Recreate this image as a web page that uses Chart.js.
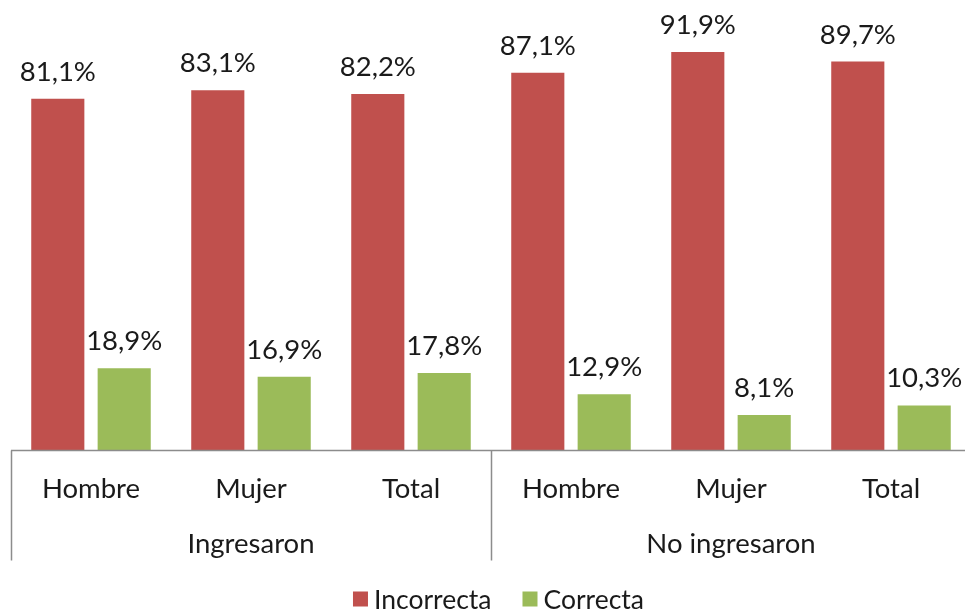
<!DOCTYPE html>
<html>
<head>
<meta charset="utf-8">
<script src="https://cdn.jsdelivr.net/npm/chart.js@4/dist/chart.umd.min.js"></script>
<style>
  html, body { margin: 0; padding: 0; background: #fff; overflow: hidden; }
  #wrap { position: relative; width: 971px; height: 616px; }
</style>
</head>
<body>
<div id="wrap"><canvas id="c" width="971" height="616"></canvas></div>
<script>
// Categories (inner level) and their groups (outer level)
const categories = ['Hombre', 'Mujer', 'Total', 'Hombre', 'Mujer', 'Total'];
const groups = ['Ingresaron', 'No ingresaron'];
const groupSize = 3;

// Series values in percent
const incorrecta = [81.1, 83.1, 82.2, 87.1, 91.9, 89.7];
const correcta = [18.9, 16.9, 17.8, 12.9, 8.1, 10.3];

const seriesNames = ['Incorrecta', 'Correcta'];
const seriesColors = ['#C0504D', '#9BBB59'];

const FONT = 'Lato, "Open Sans", sans-serif';
const AXIS_COLOR = '#8C8C8C';

function fmt(v) {
  return v.toFixed(1).replace('.', ',') + '%';
}

// Draws value labels, two-level category axis and the legend
const decorations = {
  id: 'decorations',
  afterDatasetsDraw(chart) {
    const ctx = chart.ctx;
    const area = chart.chartArea;
    const xs = chart.scales.x;

    // value labels above each bar
    ctx.save();
    ctx.fillStyle = '#1a1a1a';
    ctx.font = '27.5px ' + FONT;
    ctx.textAlign = 'center';
    ctx.textBaseline = 'alphabetic';
    chart.data.datasets.forEach((ds, di) => {
      chart.getDatasetMeta(di).data.forEach((bar, i) => {
        ctx.fillText(fmt(ds.data[i]), bar.x, bar.y - 18);
      });
    });
    ctx.restore();

    // axis line and group separators
    const base = Math.round(area.bottom) + 0.5;
    const step = xs.getPixelForValue(1) - xs.getPixelForValue(0);
    const left = xs.getPixelForValue(0) - step / 2;
    const bottomSep = base + 110;
    ctx.save();
    ctx.strokeStyle = AXIS_COLOR;
    ctx.lineWidth = 1.5;
    ctx.beginPath();
    ctx.moveTo(left, base);
    ctx.lineTo(xs.getPixelForValue(categories.length - 1) + step / 2, base);
    for (let g = 0; g <= groups.length; g++) {
      const x = Math.round(left + g * groupSize * step) + 0.5;
      ctx.moveTo(x, base);
      ctx.lineTo(x, bottomSep);
    }
    ctx.stroke();

    // category labels
    ctx.fillStyle = '#1a1a1a';
    ctx.font = '27.5px ' + FONT;
    ctx.textAlign = 'center';
    ctx.textBaseline = 'alphabetic';
    categories.forEach((c, i) => {
      ctx.fillText(c, xs.getPixelForValue(i), base + 47);
    });
    // group labels
    groups.forEach((g, gi) => {
      const cx = left + (gi + 0.5) * groupSize * step;
      ctx.fillText(g, cx, base + 102);
    });

    // legend
    ctx.font = '26.5px ' + FONT;
    ctx.textAlign = 'left';
    const box = 15, gapBox = 6, gapItem = 31;
    const widths = seriesNames.map(n => ctx.measureText(n).width);
    const total = widths.reduce((a, w) => a + box + gapBox + w, 0) + gapItem;
    let x = 498.5 - total / 2;
    const ly = 599;
    seriesNames.forEach((n, i) => {
      ctx.fillStyle = seriesColors[i];
      ctx.fillRect(x, ly - box / 2, box, box);
      x += box + gapBox;
      ctx.fillStyle = '#1a1a1a';
      ctx.fillText(n, x, ly + 9.5);
      x += widths[i] + gapItem;
    });
    ctx.restore();
  }
};

new Chart(document.getElementById('c'), {
  type: 'bar',
  data: {
    labels: categories,
    datasets: [
      { label: seriesNames[0], data: incorrecta, backgroundColor: seriesColors[0] },
      { label: seriesNames[1], data: correcta, backgroundColor: seriesColors[1] }
    ]
  },
  options: {
    responsive: false,
    animation: false,
    devicePixelRatio: 1,
    layout: { padding: { top: 17, bottom: 166, left: 11, right: 0 } },
    datasets: { bar: { categoryPercentage: 0.83, barPercentage: 0.8 } },
    plugins: { legend: { display: false }, tooltip: { enabled: false } },
    scales: {
      x: {
        display: false,
        grid: { display: false }
      },
      y: {
        display: false,
        min: 0,
        max: 100
      }
    }
  },
  plugins: [decorations]
});
</script>
</body>
</html>
